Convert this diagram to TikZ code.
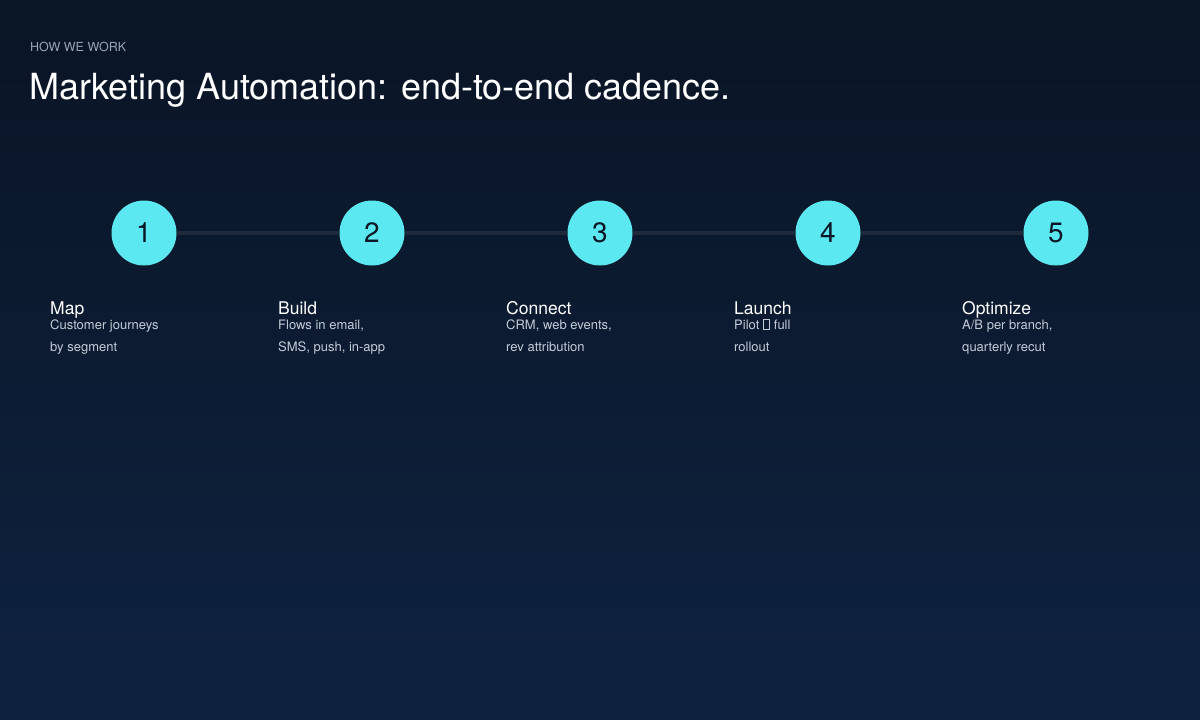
\documentclass[tikz,border=0pt]{standalone}
\usepackage{fontspec}
\setmainfont{TeX Gyre Heros}
\definecolor{bgtop}{HTML}{0A1525}
\definecolor{bgbot}{HTML}{0E2240}
\definecolor{cyanc}{HTML}{5CE8F0}
\definecolor{linec}{HTML}{1E2A3A}
\definecolor{graytxt}{HTML}{9AA6B6}
\definecolor{desctxt}{HTML}{C4CCD8}
\definecolor{numtxt}{HTML}{0B1626}
\begin{document}
\begin{tikzpicture}[x=1pt,y=-1pt,
  stepcirc/.style={circle,fill=cyanc,minimum size=65pt,inner sep=0pt,font=\fontsize{28}{28}\selectfont,text=numtxt},
  steptitle/.style={anchor=base west,inner sep=0pt,text=white,font=\fontsize{17.5}{17.5}\selectfont},
  stepdesc/.style={anchor=base west,inner sep=0pt,text=desctxt,align=left,font=\fontsize{13}{22}\selectfont},
  conn/.style={draw=linec,line width=3.5pt}]
\shade[top color=bgtop,bottom color=bgbot] (0,0) rectangle (1200,720);
\useasboundingbox (0,0) rectangle (1200,720);
\node[anchor=base west,inner sep=0pt,text=graytxt,font=\fontsize{12.5}{12.5}\selectfont] (hdr) at (30,51) {HOW WE WORK};
\node[anchor=base west,inner sep=0pt,text=white,font=\fontsize{36}{36}\selectfont] (ttl) at (29,99) {Marketing Automation: end-to-end cadence.};
\foreach \i/\x in {1/144,2/372,3/600,4/828,5/1056}{
  \node[stepcirc] (c\i) at (\x,233) {\i};
}
\foreach \a/\b in {1/2,2/3,3/4,4/5}{ \draw[conn] (c\a) -- (c\b); }
\foreach \i/\x/\t/\d in {1/50/Map/{Customer journeys\\by segment},
  2/278/Build/{Flows in email,\\SMS, push, in-app},
  3/506/Connect/{CRM, web events,\\rev attribution},
  4/734/Launch/{Pilot \tikz[baseline=0pt]\draw[desctxt,line width=0.8pt] (0,0) rectangle (6.5,-9.5); full\\rollout},
  5/962/Optimize/{A/B per branch,\\quarterly recut}}{
  \node[steptitle] (t\i) at (\x,314) {\t};
  \node[stepdesc] (d\i) at (\x,351) {\d};
}
\end{tikzpicture}
\end{document}
